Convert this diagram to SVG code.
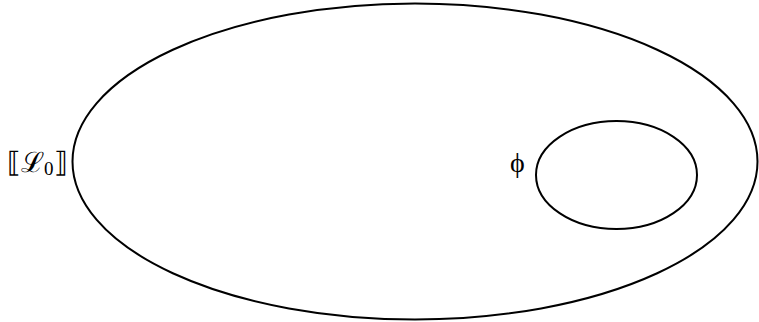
<svg xmlns="http://www.w3.org/2000/svg" width="759" height="322" viewBox="0 0 759 322">
<style>
.e{fill:none;stroke:#000;stroke-width:2}
.t{font-family:"Liberation Serif","DejaVu Serif",serif;font-size:28px;fill:#000}
</style>
<rect width="759" height="322" fill="#fff"/>
<g id="L0">
<ellipse class="e" cx="415" cy="161.5" rx="342.5" ry="158"/>
<text class="t" x="7" y="172">⟦<tspan font-family="DejaVu Serif">ℒ</tspan><tspan font-size="19" dy="3">0</tspan><tspan dy="-3">⟧</tspan></text>
</g>
<g id="phi">
<ellipse class="e" cx="616.5" cy="175" rx="80.5" ry="54"/>
<text class="t" x="510" y="172">ϕ</text>
</g>
<g id="connectors"/>
</svg>
